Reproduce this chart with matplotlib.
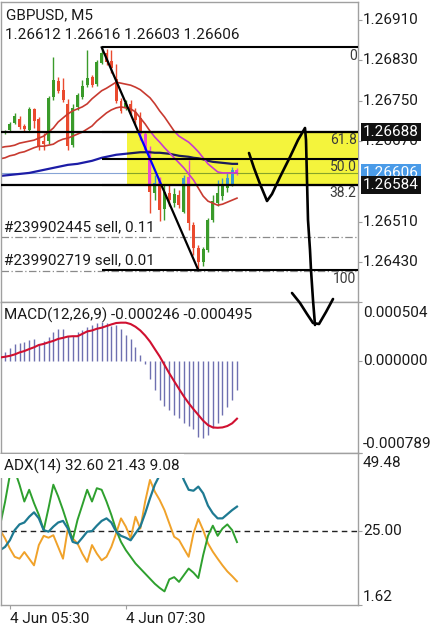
import numpy as np
import matplotlib
matplotlib.use("Agg")
import matplotlib.pyplot as plt
from matplotlib.patches import Rectangle
from matplotlib.colors import to_rgba

plt.rcParams['font.family'] = ['Roboto', 'DejaVu Sans']

# ---------------- data ----------------
bar_idx = list(range(-1, 49))          # M5 bars, index 1 = 05:30, 25 = 07:30
time_tick_idx = [1, 25]
time_tick_labels = ['4 Jun 05:30', '4 Jun 07:30']

opens = [1.26657, 1.26686, 1.26692, 1.26706, 1.26714, 1.26700, 1.26692, 1.26734, 1.26714, 1.26670,
         1.26670, 1.26758, 1.26789, 1.26772, 1.26744, 1.26662, 1.26738, 1.26758, 1.26781, 1.26797,
         1.26783, 1.26825, 1.26845, 1.26829, 1.26793, 1.26750, 1.26736, 1.26744, 1.26728, 1.26716,
         1.26684, 1.26652, 1.26567, 1.26593, 1.26536, 1.26567, 1.26547, 1.26563, 1.26530, 1.26599,
         1.26504, 1.26458, 1.26430, 1.26454, 1.26514, 1.26547, 1.26561, 1.26577, 1.26585, 1.26612]
highs = [1.26680, 1.26692, 1.26708, 1.26726, 1.26720, 1.26704, 1.26738, 1.26736, 1.26718, 1.26686,
         1.26760, 1.26837, 1.26797, 1.26795, 1.26754, 1.26744, 1.26766, 1.26791, 1.26851, 1.26801,
         1.26831, 1.26856, 1.26853, 1.26851, 1.26823, 1.26756, 1.26752, 1.26752, 1.26736, 1.26728,
         1.26688, 1.26660, 1.26603, 1.26599, 1.26583, 1.26583, 1.26577, 1.26573, 1.26603, 1.26633,
         1.26510, 1.26464, 1.26460, 1.26518, 1.26563, 1.26593, 1.26597, 1.26609, 1.26619, 1.26616]
lows = [1.26653, 1.26684, 1.26690, 1.26704, 1.26694, 1.26688, 1.26690, 1.26696, 1.26652, 1.26652,
        1.26664, 1.26752, 1.26766, 1.26748, 1.26652, 1.26658, 1.26732, 1.26754, 1.26777, 1.26777,
        1.26779, 1.26823, 1.26821, 1.26805, 1.26746, 1.26726, 1.26732, 1.26722, 1.26702, 1.26672,
        1.26649, 1.26528, 1.26553, 1.26512, 1.26514, 1.26542, 1.26540, 1.26538, 1.26528, 1.26494,
        1.26444, 1.26414, 1.26423, 1.26450, 1.26510, 1.26542, 1.26553, 1.26569, 1.26581, 1.26603]
closes = [1.26676, 1.26690, 1.26704, 1.26720, 1.26698, 1.26694, 1.26734, 1.26710, 1.26660, 1.26664,
          1.26756, 1.26791, 1.26770, 1.26752, 1.26660, 1.26736, 1.26762, 1.26779, 1.26795, 1.26781,
          1.26827, 1.26845, 1.26827, 1.26815, 1.26750, 1.26730, 1.26746, 1.26726, 1.26712, 1.26684,
          1.26652, 1.26569, 1.26587, 1.26534, 1.26569, 1.26553, 1.26565, 1.26543, 1.26597, 1.26508,
          1.26458, 1.26430, 1.26456, 1.26514, 1.26551, 1.26567, 1.26585, 1.26597, 1.26613, 1.26606]

ma_red_upper = [1.26657, 1.26659, 1.26660, 1.26662, 1.26666, 1.26668, 1.26670, 1.26672, 1.26676, 1.26680,
                1.26688, 1.26696, 1.26708, 1.26716, 1.26724, 1.26730, 1.26734, 1.26738, 1.26744, 1.26754,
                1.26762, 1.26770, 1.26775, 1.26781, 1.26787, 1.26785, 1.26783, 1.26781, 1.26777, 1.26772,
                1.26764, 1.26756, 1.26744, 1.26730, 1.26718, 1.26704, 1.26690, 1.26680, 1.26674, 1.26668,
                1.26659, 1.26649, 1.26637, 1.26625, 1.26617, 1.26609, 1.26607, 1.26607, 1.26607, 1.26607]
ma_red_lower = [1.26635, 1.26637, 1.26641, 1.26643, 1.26647, 1.26649, 1.26653, 1.26657, 1.26660, 1.26660,
                1.26662, 1.26664, 1.26670, 1.26674, 1.26676, 1.26680, 1.26684, 1.26688, 1.26694, 1.26700,
                1.26710, 1.26718, 1.26726, 1.26732, 1.26736, 1.26738, 1.26736, 1.26734, 1.26728, 1.26716,
                1.26704, 1.26690, 1.26678, 1.26668, 1.26657, 1.26647, 1.26637, 1.26627, 1.26617, 1.26605,
                1.26593, 1.26577, 1.26561, 1.26551, 1.26547, 1.26543, 1.26545, 1.26549, 1.26553, 1.26557]
ma_blue = [1.26601, 1.26602, 1.26603, 1.26604, 1.26605, 1.26606, 1.26607, 1.26609, 1.26611, 1.26613,
           1.26615, 1.26617, 1.26619, 1.26621, 1.26623, 1.26624, 1.26625, 1.26627, 1.26629, 1.26631,
           1.26634, 1.26637, 1.26639, 1.26641, 1.26643, 1.26644, 1.26645, 1.26646, 1.26647, 1.26648,
           1.26648, 1.26648, 1.26647, 1.26647, 1.26646, 1.26645, 1.26643, 1.26641, 1.26640, 1.26639,
           1.26637, 1.26636, 1.26634, 1.26631, 1.26629, 1.26628, 1.26627, 1.26626, 1.26625, 1.26625]

bid_price = 1.26606
hline_prices = [1.26688, 1.26584]
fib_start_idx = 20
fib_labels = ['0', '61.8', '50.0', '38.2', '100']
fib_prices = [1.26856, 1.26688, 1.26635, 1.26584, 1.26414]
trend_idx = [20, 40]
trend_prices = [1.26856, 1.26414]
zone_start_idx = 25.2
zone_top, zone_bottom = 1.26688, 1.26584
order_prices = [1.26480, 1.26413]
order_labels = ['#239902445 sell, 0.11', '#239902719 sell, 0.01']
price_ticks = [1.26910, 1.26830, 1.26750, 1.26670, 1.26510, 1.26430]

macd_hist_e6 = [72, 107, 145, 150, 159, 182, 188, 145, 174, 203, 246, 269, 269, 217, 217, 246, 260,
                289, 310, 327, 333, 327, 298, 310, 269, 223, 188, 116, 49, -23, -159, -246, -333,
                -385, -419, -463, -492, -535, -558, -587, -651, -657, -636, -579, -530, -463, -391,
                -333, -246]
macd_signal_e6 = [29, 35, 43, 55, 72, 84, 101, 116, 136, 145, 159, 171, 188, 197, 208, 211, 211, 231,
                  252, 260, 275, 284, 298, 312, 324, 327, 327, 315, 292, 260, 217, 165, 101, 38, -35,
                  -107, -174, -240, -304, -362, -414, -463, -512, -550, -570, -573, -570, -558, -535,
                  -495]
macd_range = (-0.000789, 0.000504)

adx_main = [18.9, 19.9, 22.0, 25.2, 27.0, 27.6, 29.4, 30.8, 28.9, 25.2, 24.7, 26.3, 27.6, 28.1, 25.7,
            21.5, 21.0, 22.8, 24.7, 24.9, 26.6, 28.1, 28.9, 27.6, 24.7, 23.4, 22.8, 22.0, 24.2, 26.3,
            30.5, 35.2, 39.5, 42.5, 46.0, 48.0, 47.0, 45.0, 41.0, 37.9, 37.6, 38.9, 36.8, 32.9, 30.5,
            28.9, 28.9, 30.2, 31.5, 32.6]
adx_plus = [26.8, 34.0, 42.5, 44.0, 39.5, 34.2, 37.9, 33.7, 30.0, 25.2, 32.1, 39.5, 35.8, 31.5, 26.8,
            22.1, 28.4, 33.1, 37.9, 34.2, 38.4, 37.9, 34.2, 30.0, 25.2, 21.5, 18.9, 16.8, 14.7, 13.1,
            11.5, 9.9, 8.3, 7.0, 5.9, 9.7, 10.4, 8.9, 11.0, 13.1, 11.8, 10.1, 17.3, 23.4, 26.6, 23.4,
            25.7, 27.0, 25.2, 21.43]
adx_minus = [25.2, 22.6, 19.4, 16.8, 16.2, 18.3, 16.2, 14.1, 20.5, 23.4, 22.8, 23.6, 19.9, 16.2, 25.7,
             22.6, 21.0, 17.8, 15.2, 20.5, 17.8, 15.7, 16.8, 19.9, 24.2, 28.9, 26.3, 22.6, 29.4, 25.7,
             34.2, 41.0, 37.3, 34.7, 31.5, 27.3, 23.1, 22.1, 19.4, 16.8, 24.2, 28.7, 25.2, 21.0, 18.4,
             16.2, 14.1, 12.2, 10.7, 9.08]
adx_range = (1.62, 49.48)
adx_level = 25.0

# ---------------- styles ----------------
C_BULL = '#3a9b2a'
C_BEAR = '#ea4a2e'
C_RED_MA = '#c83a30'
C_BLUE_MA = '#1c1ca6'
C_BID = '#86a4d6'
C_GRID = '#a0a0a0'
C_ZONE = '#f4f43c'
C_TXT = '#1a1a1a'
FS = 11

W, H = 434, 625
fig = plt.figure(figsize=(W / 100, H / 100), dpi=100)


def box(x0, y0, x1, y1):
    return [x0 / W, 1 - y1 / H, (x1 - x0) / W, (y1 - y0) / H]


ax_main = fig.add_axes(box(1, 2, 358, 302))
ax_macd = fig.add_axes(box(1, 302, 358, 453))
ax_adx = fig.add_axes(box(1, 453, 358, 605))
XL = (-0.83, 73.04)
for ax in (ax_main, ax_macd, ax_adx):
    ax.set_xlim(*XL)
    ax.set_facecolor('white')
    for s in ax.spines.values():
        s.set_color(C_GRID)
        s.set_linewidth(1.0)
    ax.tick_params(axis='y', left=False, right=True, labelleft=False, labelright=False,
                   length=3, width=0.8, color=C_GRID)
    ax.tick_params(axis='x', bottom=False, labelbottom=False)

ax_main.set_ylim(1.26351, 1.26946)
ax_macd.set_ylim(*macd_range)
ax_adx.set_ylim(*adx_range)


def right_label(ax, val, text, dy_px=0.0, va='center', bg=None, fg=C_TXT, z=30):
    kw = {}
    if bg is not None:
        kw['bbox'] = dict(boxstyle='square,pad=0.12', fc=bg, ec='none')
    ax.annotate(text, xy=(1.0, val), xycoords=ax.get_yaxis_transform(),
                xytext=(3.6, -dy_px * 0.72), textcoords='offset points',
                ha='left', va=va, fontsize=FS, color=fg, zorder=z,
                annotation_clip=False, **kw)


def xor_color(c):
    r, g, b, a = to_rgba(c)
    return (r, g, 1.0 - b, a)


def draw_price_layer(ax, cf, z, clip=None):
    arts = []
    cols = [C_BULL if c >= o else C_BEAR for o, c in zip(opens, closes)]
    arts.append(ax.vlines(bar_idx, lows, highs, colors=[cf(c) for c in cols], lw=1.0, zorder=z))
    bottoms = [min(o, c) for o, c in zip(opens, closes)]
    heights = [max(abs(c - o), 0.000012) for o, c in zip(opens, closes)]
    bars = ax.bar(bar_idx, heights, bottom=bottoms, width=0.62, color=[cf(c) for c in cols],
                  linewidth=0, zorder=z + 0.1)
    arts.extend(bars.patches)
    arts.append(ax.axhline(bid_price, color=cf(C_BID), lw=0.8, zorder=z + 0.05))
    arts += ax.plot(bar_idx, ma_blue, color=cf(C_BLUE_MA), lw=1.6, zorder=z + 0.2)
    arts += ax.plot(bar_idx, ma_red_lower, color=cf(C_RED_MA), lw=1.2, zorder=z + 0.2)
    arts += ax.plot(bar_idx, ma_red_upper, color=cf(C_RED_MA), lw=1.2, zorder=z + 0.2)
    arts += ax.plot(trend_idx, trend_prices, color=cf('#000000'), lw=1.6, zorder=z + 0.3)
    if clip is not None:
        for a in arts:
            a.set_clip_path(clip)
    return arts


# ---------------- main panel ----------------
for p in order_prices:
    ax_main.axhline(p, color='#8a8a8a', lw=0.9, ls=(0, (6, 2, 1, 2)), zorder=1.5)
for p, lab in zip(order_prices, order_labels):
    ax_main.annotate(lab, xy=(0, p), xycoords=ax_main.get_yaxis_transform(),
                     xytext=(2.0, 2.2), textcoords='offset points', ha='left', va='bottom',
                     fontsize=FS, color=C_TXT, zorder=12)

draw_price_layer(ax_main, lambda c: c, 2.0)

zone = Rectangle((zone_start_idx, zone_bottom), XL[1] - zone_start_idx, zone_top - zone_bottom,
                 facecolor=C_ZONE, edgecolor='none', zorder=6)
ax_main.add_patch(zone)
draw_price_layer(ax_main, xor_color, 7.0, clip=zone)

for p in hline_prices:
    ax_main.axhline(p, color='black', lw=1.6, zorder=9)
ax_main.hlines(fib_prices, fib_start_idx, XL[1], colors='black', lw=1.5, zorder=9)
for p, lab in zip(fib_prices, fib_labels):
    ax_main.annotate(lab, xy=(1.0, p), xycoords=ax_main.get_yaxis_transform(),
                     xytext=(-1.0, -1.0), textcoords='offset points', ha='right', va='top',
                     fontsize=10, color='#3a3a3a', zorder=10)

ax_main.set_yticks(price_ticks)
for p in price_ticks:
    right_label(ax_main, p, f'{p:.5f}')
right_label(ax_main, hline_prices[0], f'{hline_prices[0]:.5f}', bg='#111111', fg='white', z=31)
right_label(ax_main, bid_price, f'{bid_price:.5f}', dy_px=-0.5, bg='#4a9be8', fg='white', z=32)
right_label(ax_main, hline_prices[1], f'{hline_prices[1]:.5f}', dy_px=0.5, bg='#111111', fg='white', z=33)

fig.text(6 / W, 1 - 15 / H, 'GBPUSD, M5', fontsize=FS, color=C_TXT, va='center', ha='left', zorder=20)
fig.text(5 / W, 1 - 35 / H, f'{opens[-1]:.5f} {highs[-1]:.5f} {lows[-1]:.5f} {closes[-1]:.5f}',
         fontsize=FS, color=C_TXT, va='center', ha='left', zorder=20)

# ---------------- MACD panel ----------------
hist = np.array(macd_hist_e6) * 1e-6
sig = np.array(macd_signal_e6) * 1e-6
ax_macd.vlines(bar_idx[1:], 0, hist, colors='#6e70b0', lw=1.0, zorder=2)
ax_macd.plot(bar_idx, sig, color='#d01030', lw=1.5, zorder=3)
ax_macd.set_yticks([macd_range[0], 0.0, macd_range[1]])
right_label(ax_macd, macd_range[1], f'{macd_range[1]:.6f}', dy_px=11)
right_label(ax_macd, 0.0, '0.000000')
right_label(ax_macd, macd_range[0], f'{macd_range[0]:.6f}', dy_px=-9)
fig.text(4 / W, 1 - 315 / H, 'MACD(12,26,9) %.6f %.6f' % (hist[-1], sig[-1]),
         fontsize=FS, color=C_TXT, va='center', ha='left', zorder=20)

# ---------------- ADX panel ----------------
ax_adx.axhline(adx_level, color='#222222', lw=1.0, ls=(0, (4, 3)), zorder=1.5)
ax_adx.plot(bar_idx, adx_minus, color='#f0a22a', lw=1.4, zorder=2)
ax_adx.plot(bar_idx, adx_plus, color='#2ea02e', lw=1.4, zorder=2.1)
ax_adx.plot(bar_idx, adx_main, color='#1e7a92', lw=1.6, zorder=2.2)
ax_adx.set_yticks([adx_range[0], adx_level, adx_range[1]])
right_label(ax_adx, adx_range[1], f'{adx_range[1]:.2f}', dy_px=10)
right_label(ax_adx, adx_level, f'{adx_level:.2f}')
right_label(ax_adx, adx_range[0], f'{adx_range[0]:.2f}', dy_px=-8)
fig.text(4 / W, 1 - 466 / H, 'ADX(14) %.2f %.2f %.2f' % (adx_main[-1], adx_plus[-1], adx_minus[-1]),
         fontsize=FS, color=C_TXT, va='center', ha='left', zorder=20,
         bbox=dict(boxstyle='square,pad=0.28', fc='white', ec='none'))

ax_adx.set_xticks(time_tick_idx)
ax_adx.tick_params(axis='x', bottom=True, length=3, width=0.8, color=C_GRID)
for t, lab in zip(time_tick_idx, time_tick_labels):
    ax_adx.annotate(lab, xy=(t, 0), xycoords=ax_adx.get_xaxis_transform(),
                    xytext=(0, -5), textcoords='offset points', ha='left', va='top',
                    fontsize=FS, color=C_TXT, annotation_clip=False)

# ---------------- hand-drawn strokes (overlay, pixel space) ----------------
ov = fig.add_axes([0, 0, 1, 1], zorder=10)
ov.set_xlim(0, W)
ov.set_ylim(H, 0)
ov.axis('off')
ov.patch.set_alpha(0)
stroke1 = ([249, 254, 260, 265, 267, 272, 280, 290, 298, 305, 306, 307, 308, 310, 311, 313, 315],
           [153, 168, 184, 196, 201, 194, 177, 157, 140, 128, 140, 180, 220, 250, 270, 300, 325])
stroke2 = ([292, 300, 307, 313, 319, 326, 333], [293, 303, 314, 323, 324, 312, 299])
for sx, sy in (stroke1, stroke2):
    ov.plot(sx, sy, color='black', lw=1.9, solid_capstyle='round', solid_joinstyle='round')

fig.savefig('out.png', dpi=100, facecolor='white')
